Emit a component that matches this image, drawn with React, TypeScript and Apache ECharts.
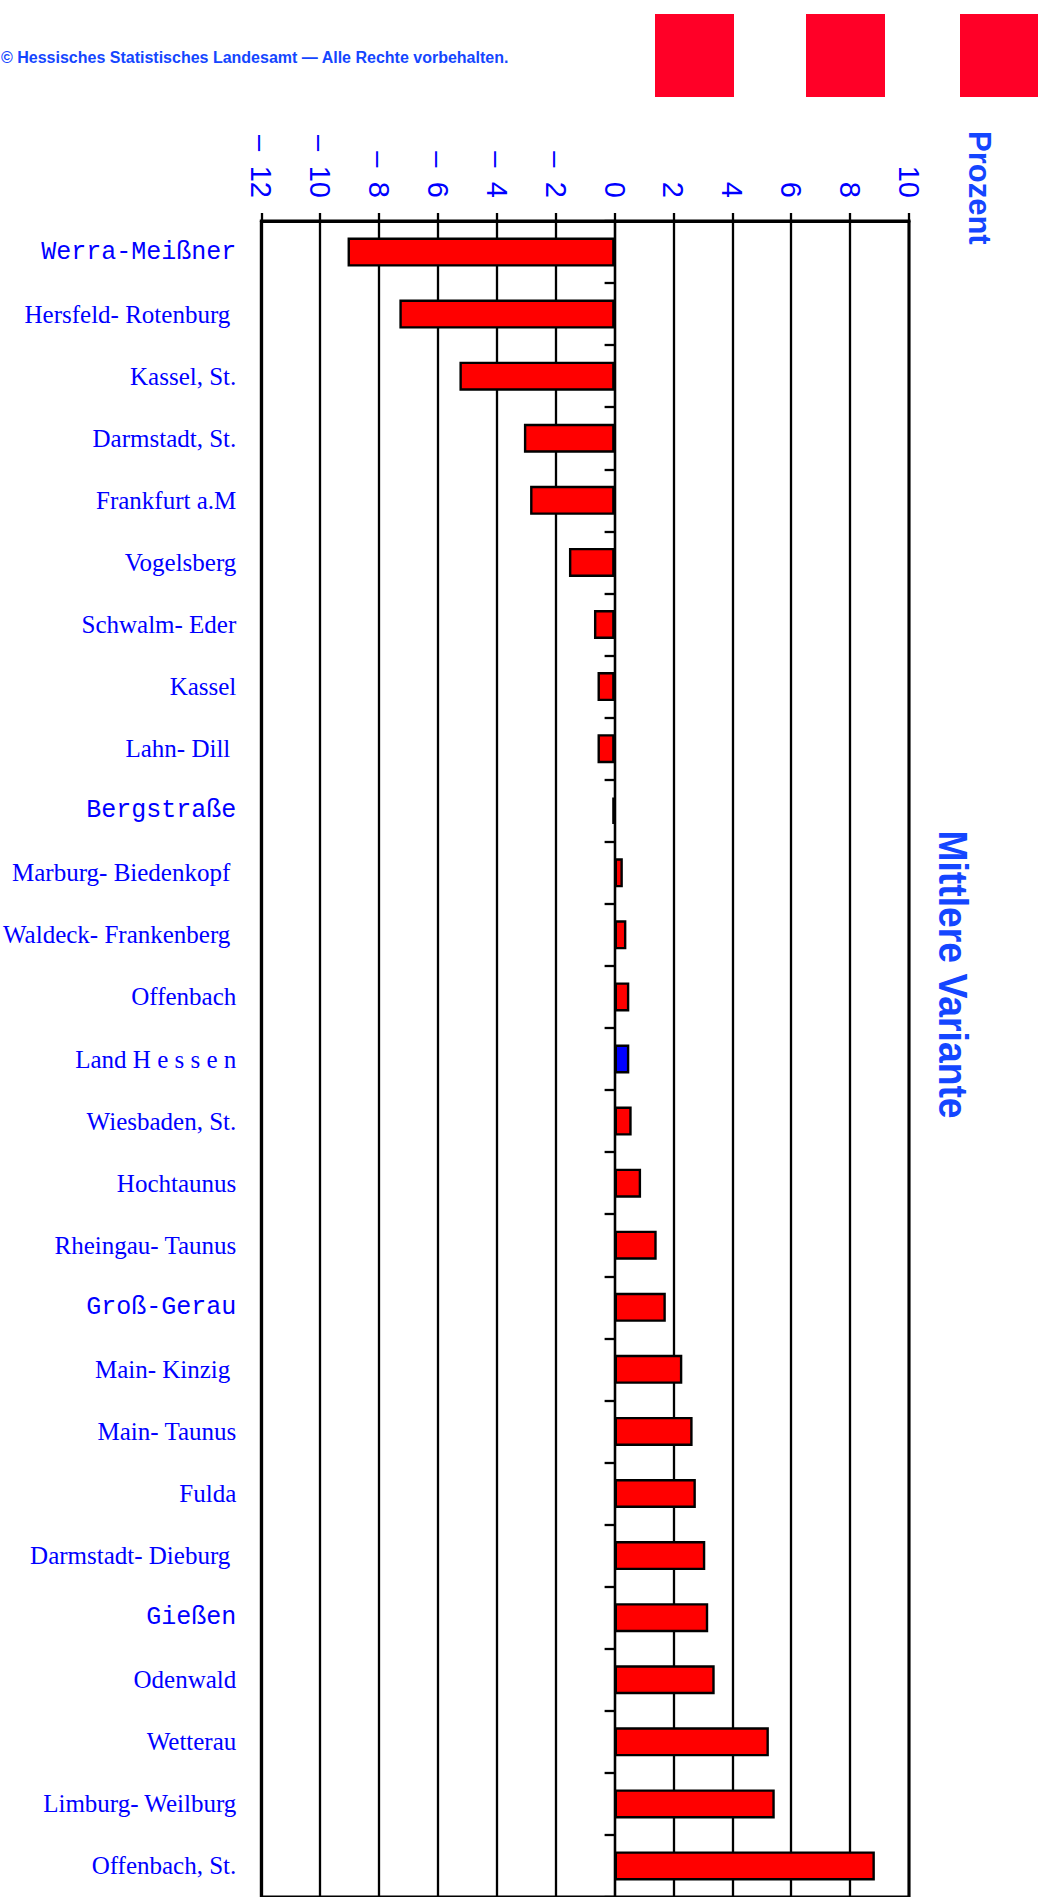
import React, { useEffect, useRef } from 'react';
import * as echarts from 'echarts';

const categories: string[] = [
  'Werra-Meißner',
  'Hersfeld- Rotenburg',
  'Kassel, St.',
  'Darmstadt, St.',
  'Frankfurt a.M',
  'Vogelsberg',
  'Schwalm- Eder',
  'Kassel',
  'Lahn- Dill',
  'Bergstraße',
  'Marburg- Biedenkopf',
  'Waldeck- Frankenberg',
  'Offenbach',
  'Land H e s s e n',
  'Wiesbaden, St.',
  'Hochtaunus',
  'Rheingau- Taunus',
  'Groß-Gerau',
  'Main- Kinzig',
  'Main- Taunus',
  'Fulda',
  'Darmstadt- Dieburg',
  'Gießen',
  'Odenwald',
  'Wetterau',
  'Limburg- Weilburg',
  'Offenbach, St.',
];

const values: number[] = [
  -9.07, -7.31, -5.27, -3.08, -2.87, -1.55, -0.7, -0.58, -0.58, -0.08,
  0.28, 0.4, 0.5, 0.5, 0.58, 0.9, 1.43, 1.74, 2.3, 2.65,
  2.76, 3.08, 3.18, 3.4, 5.24, 5.44, 8.84,
];

const highlightedCategory = 'Land H e s s e n';
const paddedLabels: string[] = [
  'Hersfeld- Rotenburg',
  'Lahn- Dill',
  'Marburg- Biedenkopf',
  'Waldeck- Frankenberg',
  'Main- Kinzig',
  'Darmstadt- Dieburg',
];

const axisMin = -12;
const axisMax = 10;
const axisStep = 2;

const unitLabel = 'Prozent';
const variantLabel = 'Mittlere Variante';
const copyrightLabel = '© Hessisches Statistisches Landesamt — Alle Rechte vorbehalten.';

const BLUE = '#0000ff';
const TITLE_BLUE = '#1446ff';
const RED = '#ff0000';
const SQUARE_RED = '#ff0027';

export default function App() {
  const ref = useRef<HTMLDivElement>(null);

  useEffect(() => {
    if (!ref.current) return;
    const chart = echarts.init(ref.current, undefined, { renderer: 'svg' });

    const barData = values.map((v, i) => ({
      value: v,
      itemStyle: {
        color: categories[i] === highlightedCategory ? BLUE : RED,
        borderColor: '#000',
        borderWidth: 2.4,
      },
    }));

    const option: any = {
      animation: false,
      backgroundColor: '#ffffff',
      grid: {
        left: 259,
        top: 221,
        right: 129,
        height: 1682,
        show: true,
        borderColor: '#000',
        borderWidth: 3,
        backgroundColor: 'transparent',
      },
      xAxis: {
        type: 'value',
        position: 'top',
        min: axisMin,
        max: axisMax,
        interval: axisStep,
        axisLine: { show: true, onZero: false, lineStyle: { color: '#000', width: 3 } },
        axisTick: { show: true, length: 8, lineStyle: { color: '#000', width: 2.3 } },
        splitLine: { show: true, lineStyle: { color: '#000', width: 2.3 } },
        axisLabel: {
          rotate: 90,
          margin: 23,
          fontSize: 29,
          fontFamily: 'Liberation Sans',
          color: BLUE,
          formatter: (v: number) => (v < 0 ? '\u2013\u2002' + Math.abs(v) : String(v)),
        },
      },
      yAxis: [
        {
          type: 'category',
          data: categories,
          inverse: true,
          axisLine: { show: true, onZero: true, lineStyle: { color: '#000', width: 2.3 } },
          axisTick: { show: true, length: 10, lineStyle: { color: '#000', width: 2.3 } },
          axisLabel: { show: false },
          splitLine: { show: false },
        },
        {
          type: 'category',
          data: categories,
          inverse: true,
          position: 'left',
          axisLine: { show: false, onZero: false },
          axisTick: { show: false },
          splitLine: { show: false },
          axisLabel: {
            interval: 0,
            margin: 25,
            color: BLUE,
            fontSize: 25,
            formatter: (v: string) => {
              const key = v.indexOf('ß') >= 0 ? 'm' : paddedLabels.indexOf(v) >= 0 ? 'p' : 's';
              return '{' + key + '|' + v + '}';
            },
            rich: {
              m: { fontFamily: 'Liberation Mono', fontSize: 25, color: BLUE },
              s: { fontFamily: 'Liberation Serif', fontSize: 25, color: BLUE },
              p: { fontFamily: 'Liberation Serif', fontSize: 25, color: BLUE, padding: [0, 6, 0, 0] },
            },
          },
        },
      ],
      series: [
        {
          type: 'bar',
          yAxisIndex: 0,
          data: barData,
          barWidth: 29,
        },
      ],
      graphic: [
        { type: 'rect', shape: { x: 655, y: 14, width: 79, height: 83 }, style: { fill: SQUARE_RED } },
        { type: 'rect', shape: { x: 806, y: 14, width: 79, height: 83 }, style: { fill: SQUARE_RED } },
        { type: 'rect', shape: { x: 960, y: 14, width: 79, height: 83 }, style: { fill: SQUARE_RED } },
        {
          type: 'text',
          x: 1,
          y: 57.5,
          style: {
            text: copyrightLabel,
            fill: TITLE_BLUE,
            fontSize: 16,
            fontWeight: 'bold',
            fontFamily: 'Liberation Sans',
            textAlign: 'left',
            textVerticalAlign: 'middle',
          },
        },
        {
          type: 'text',
          x: 979.5,
          y: 131,
          rotation: -Math.PI / 2,
          style: {
            text: unitLabel,
            fill: TITLE_BLUE,
            fontSize: 31,
            fontWeight: 'bold',
            fontFamily: 'Liberation Sans',
            textAlign: 'left',
            textVerticalAlign: 'middle',
          },
        },
        {
          type: 'text',
          x: 953,
          y: 974.5,
          rotation: -Math.PI / 2,
          scaleX: 0.91,
          style: {
            text: variantLabel,
            fill: TITLE_BLUE,
            fontSize: 41,
            fontWeight: 'bold',
            fontFamily: 'Liberation Sans',
            textAlign: 'center',
            textVerticalAlign: 'middle',
          },
        },
      ],
    };

    chart.setOption(option);
    return () => chart.dispose();
  }, []);

  return (
    <div
      ref={ref}
      style={{ position: 'absolute', left: 0, top: 0, width: 1038, height: 1897, overflow: 'hidden' }}
    />
  );
}
